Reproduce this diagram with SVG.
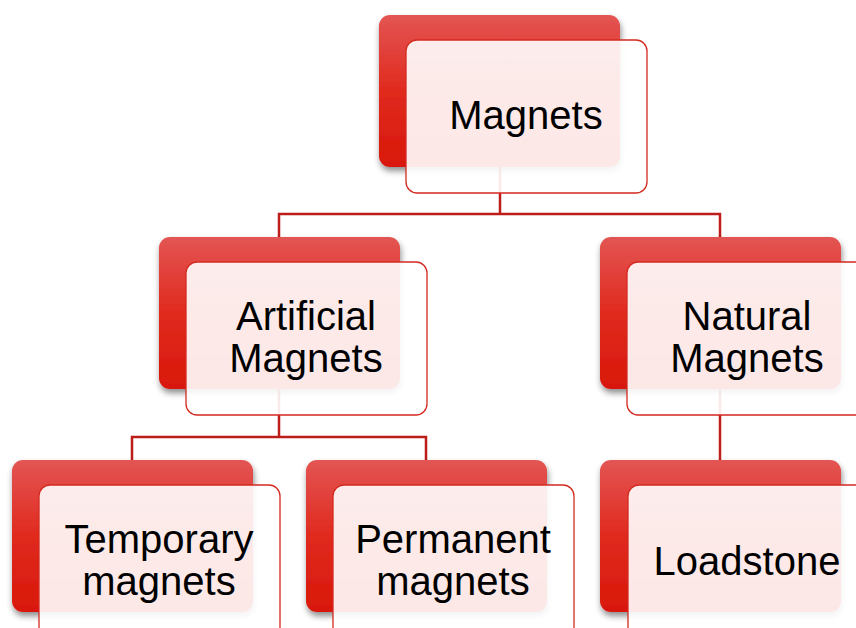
<svg xmlns="http://www.w3.org/2000/svg" width="856" height="628" viewBox="0 0 856 628">
<style>
.back{fill:url(#rg);filter:url(#sh)}
.front{fill:#ffffff;fill-opacity:0.9;stroke:#d42a20;stroke-width:1.3}
.lbl{font-family:"Liberation Sans",Arial,sans-serif;font-size:40px;fill:#000;text-anchor:middle}
.con{fill:none;stroke:#be1e1a;stroke-width:2.5}
</style>
<defs>
<linearGradient id="rg" x1="0" y1="0" x2="0" y2="1">
<stop offset="0" stop-color="#e35553"/>
<stop offset="0.5" stop-color="#e02a1e"/>
<stop offset="1" stop-color="#d8180a"/>
</linearGradient>
<filter id="sh" x="-10%" y="-10%" width="125%" height="130%">
<feDropShadow dx="1" dy="4" stdDeviation="3" flood-color="#000" flood-opacity="0.45"/>
</filter>
</defs>
<rect width="856" height="628" fill="#fff"/>
<g id="connectors">
<path class="con" d="M500,167 V214 H279 V237 M500,214 H720 V237"/>
<path class="con" d="M279,389 V437 H132 V460 M279,437 H426 V460"/>
<path class="con" d="M720,389 V460"/>
</g>
<g id="magnets">
<rect class="back" x="379" y="15" width="241" height="152" rx="11"/>
<rect class="front" x="406" y="40" width="241" height="153" rx="11"/>
<text class="lbl" x="526" y="129">Magnets</text>
</g>
<g id="artificial">
<rect class="back" x="159" y="237" width="241" height="152" rx="11"/>
<rect class="front" x="186" y="262" width="241" height="153" rx="11"/>
<text class="lbl" x="306" y="330">Artificial</text>
<text class="lbl" x="306" y="372">Magnets</text>
</g>
<g id="natural">
<rect class="back" x="600" y="237" width="241" height="152" rx="11"/>
<rect class="front" x="627" y="262" width="241" height="153" rx="11"/>
<text class="lbl" x="747" y="330">Natural</text>
<text class="lbl" x="747" y="372">Magnets</text>
</g>
<g id="temporary">
<rect class="back" x="12" y="460" width="241" height="152" rx="11"/>
<rect class="front" x="39" y="485" width="241" height="153" rx="11"/>
<text class="lbl" x="159" y="553">Temporary</text>
<text class="lbl" x="159" y="595">magnets</text>
</g>
<g id="permanent">
<rect class="back" x="306" y="460" width="241" height="152" rx="11"/>
<rect class="front" x="333" y="485" width="241" height="153" rx="11"/>
<text class="lbl" x="453" y="553">Permanent</text>
<text class="lbl" x="453" y="595">magnets</text>
</g>
<g id="loadstone">
<rect class="back" x="600" y="460" width="241" height="152" rx="11"/>
<rect class="front" x="628" y="485" width="241" height="153" rx="11"/>
<text class="lbl" x="747" y="575">Loadstone</text>
</g>
</svg>
